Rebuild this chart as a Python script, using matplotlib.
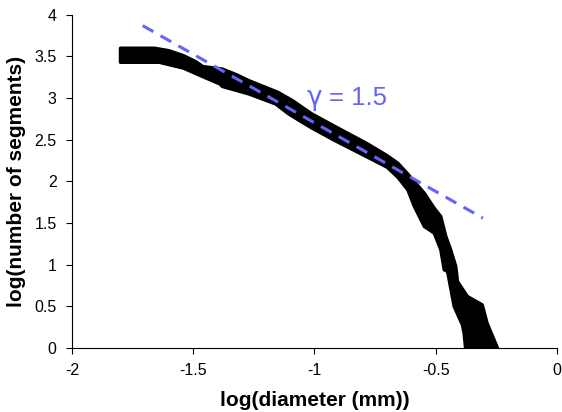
import matplotlib
matplotlib.use("Agg")
import matplotlib.pyplot as plt
import numpy as np

# Upper (top/right) boundary of the black data band
upper_x = [-1.80, -1.66, -1.60, -1.54, -1.49, -1.46, -1.38, -1.32, -1.27, -1.15,
           -1.09, -1.01, -0.915, -0.78, -0.70, -0.656, -0.615, -0.547, -0.506,
           -0.479, -0.458, -0.438, -0.417, -0.410, -0.369, -0.308, -0.288, -0.245]
upper_y = [3.60, 3.60, 3.57, 3.51, 3.44, 3.38, 3.35, 3.28, 3.21, 3.07,
           2.97, 2.81, 2.66, 2.45, 2.31, 2.22, 2.09, 1.86, 1.68,
           1.58, 1.34, 1.18, 0.98, 0.80, 0.62, 0.52, 0.30, 0.0]
# Lower (bottom/left) boundary of the black data band
lower_x = [-1.80, -1.64, -1.54, -1.47, -1.39, -1.38, -1.27, -1.16, -1.106, -1.05,
           -1.01, -0.915, -0.78, -0.70, -0.656, -0.615, -0.588, -0.547, -0.506,
           -0.479, -0.465, -0.451, -0.424, -0.390, -0.383, -0.377]
lower_y = [3.43, 3.43, 3.36, 3.27, 3.17, 3.14, 3.05, 2.93, 2.81, 2.71,
           2.64, 2.49, 2.29, 2.17, 2.05, 1.90, 1.70, 1.46, 1.38,
           1.18, 0.94, 0.92, 0.50, 0.28, 0.18, 0.0]

# Power-law fit line
fit_x = [-1.708, -0.305]
fit_y = [3.87, 1.56]
fit_symbol = "\u03b3"
fit_value = "= 1.5"

x_ticks = [-2, -1.5, -1, -0.5, 0]
x_tick_labels = ["-2", "-1.5", "-1", "-0.5", "0"]
y_ticks = [0, 0.5, 1, 1.5, 2, 2.5, 3, 3.5, 4]
y_tick_labels = ["0", "0.5", "1", "1.5", "2", "2.5", "3", "3.5", "4"]

plt.rcParams['font.family'] = ['Liberation Sans', 'DejaVu Sans']

fig = plt.figure(figsize=(5.62, 4.12), dpi=100)
ax = fig.add_axes([0.128, 0.155, 0.863, 0.809])

poly_x = list(upper_x) + list(reversed(lower_x))
poly_y = list(upper_y) + list(reversed(lower_y))
ax.fill(poly_x, poly_y, color='black', lw=2.4, ec='black', joinstyle='round', zorder=2)

blue = '#6464FA'
line, = ax.plot(fit_x, fit_y, color=blue, lw=2.2, zorder=3)
line.set_dashes([4, 2.7])

ax.text(-1.033, 3.00, fit_symbol, color=blue, fontsize=19, va='center', ha='left',
        family='DejaVu Sans')
ax.text(-0.938, 3.00, fit_value, color=blue, fontsize=18.5, va='center', ha='left')

ax.set_xlim(-2, 0)
ax.set_ylim(0, 4)
ax.set_xticks(x_ticks)
ax.set_xticklabels(x_tick_labels)
ax.set_yticks(y_ticks)
ax.set_yticklabels(y_tick_labels)
ax.tick_params(direction='out', length=4, width=0.8, labelsize=11.5, pad=7)
for s in ['top', 'right']:
    ax.spines[s].set_visible(False)
for s in ['left', 'bottom']:
    ax.spines[s].set_linewidth(0.8)

ax.set_xlabel("log(diameter (mm))", fontsize=15, fontweight='bold', labelpad=9)
ax.set_ylabel("log(number of segments)", fontsize=15, fontweight='bold', labelpad=6)

fig.savefig("out.png", dpi=100)
